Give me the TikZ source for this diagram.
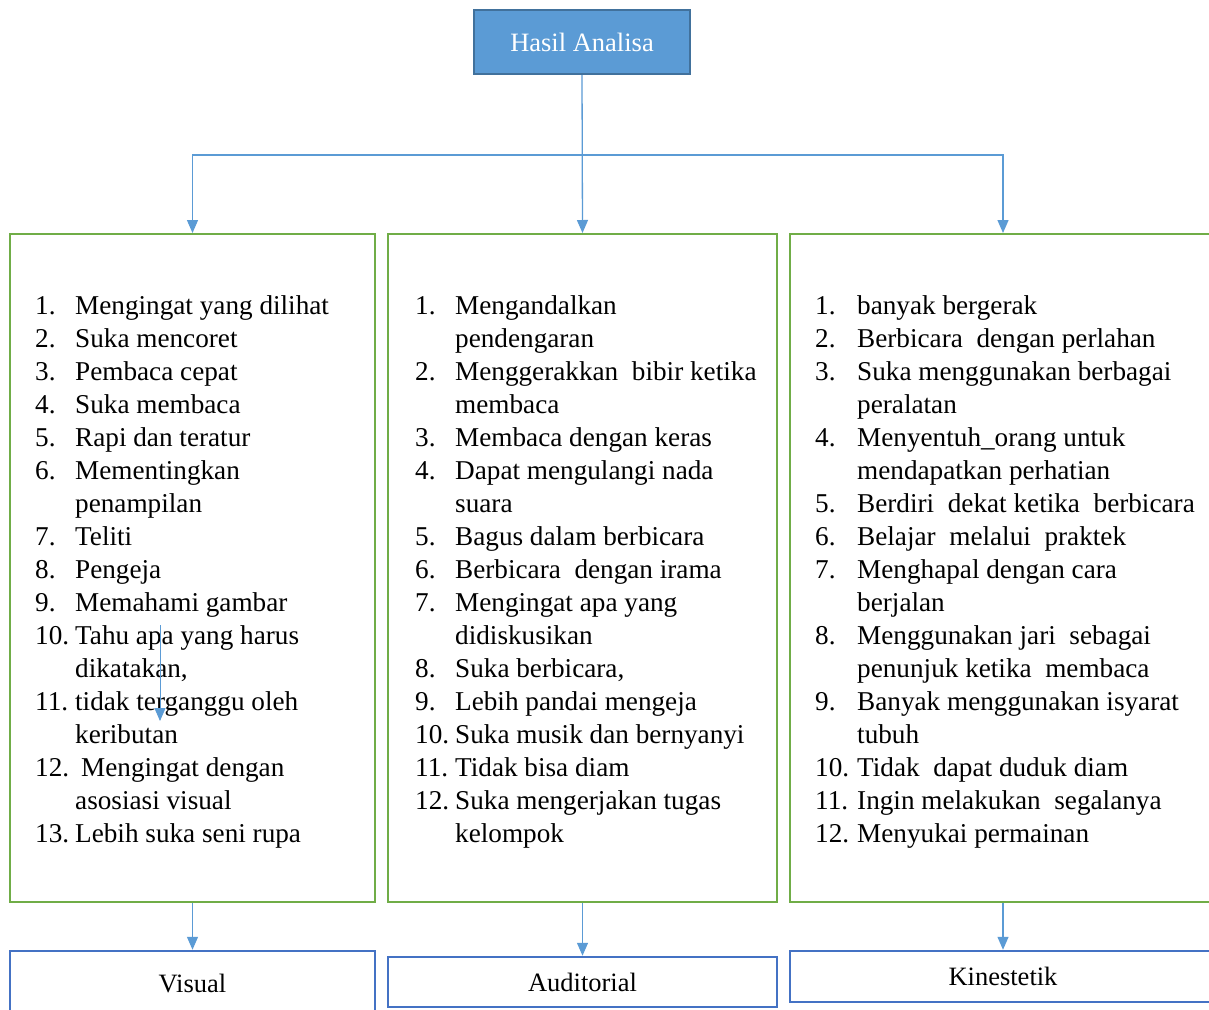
\documentclass[tikz,border=0pt]{standalone}
\usepackage{fontspec}
\setmainfont{Liberation Serif}
\usetikzlibrary{arrows.meta}
\definecolor{lineblue}{HTML}{5B9BD5}
\definecolor{darkblue}{HTML}{41719C}
\definecolor{boxgreen}{HTML}{70AD47}
\definecolor{boxblue}{HTML}{4472C4}
\tikzset{
  conn/.style={draw=lineblue, line width=1.3pt, -{Triangle[length=13pt,width=11pt]}},
  listbox/.style={draw=boxgreen, line width=2pt, inner sep=0pt},
  resbox/.style={draw=boxblue, line width=2.5pt, inner sep=0pt, font=\fontsize{26.5}{30}\selectfont},
  listtext/.style={anchor=north west, inner sep=0pt, align=left, font=\fontsize{27.2}{33}\selectfont},
}
\begin{document}
\begin{tikzpicture}[x=1pt,y=-1pt]
\useasboundingbox (0,0) rectangle (1209,1009);
\clip (0,0) rectangle (1209,1009);
\fill[white] (0,0) rectangle (1209,1009);
% top box
\node[fill=lineblue, draw=darkblue, line width=2pt, minimum width=216pt, minimum height=64pt, inner sep=0pt,
      text=white, font=\fontsize{26.5}{30}\selectfont] (top) at (582,42) {Hasil Analisa};
% list boxes
\node[listbox, minimum width=365pt, minimum height=668pt] (vis) at (192.5,568) {};
\node[listbox, minimum width=389pt, minimum height=668pt] (aud) at (582.5,568) {};
\node[listbox, minimum width=426pt, minimum height=668pt] (kin) at (1003,568) {};
% result boxes
\node[resbox, minimum width=365pt, minimum height=64pt] (rvis) at (192.5,983) {Visual};
\node[resbox, minimum width=389pt, minimum height=50pt] (raud) at (582.5,982) {Auditorial};
\node[resbox, minimum width=426pt, minimum height=51pt] (rkin) at (1003,976.5) {Kinestetik};
% lists
\node[listtext] (tvis) at (35,291) {%
\begin{tabular}{@{}p{40pt}@{}l@{}}
1. & Mengingat yang dilihat\\
2. & Suka mencoret\\
3. & Pembaca cepat\\
4. & Suka membaca\\
5. & Rapi dan teratur\\
6. & Mementingkan\\
   & penampilan\\
7. & Teliti\\
8. & Pengeja\\
9. & Memahami gambar\\
10. & Tahu apa yang harus\\
    & dikatakan,\\
11. & tidak terganggu oleh\\
    & keributan\\
12. & \hspace{6pt}Mengingat dengan\\
    & asosiasi visual\\
13. & Lebih suka seni rupa
\end{tabular}};
\node[listtext] (taud) at (415,291) {%
\begin{tabular}{@{}p{40pt}@{}l@{}}
1. & Mengandalkan\\
   & pendengaran\\
2. & Menggerakkan\ \ bibir ketika\\
   & membaca\\
3. & Membaca dengan keras\\
4. & Dapat mengulangi nada\\
   & suara\\
5. & Bagus dalam berbicara\\
6. & Berbicara\ \ dengan irama\\
7. & Mengingat apa yang\\
   & didiskusikan\\
8. & Suka berbicara,\\
9. & Lebih pandai mengeja\\
10. & Suka musik dan bernyanyi\\
11. & Tidak bisa diam\\
12. & Suka mengerjakan tugas\\
    & kelompok
\end{tabular}};
\node[listtext] (tkin) at (815,291) {%
\begin{tabular}{@{}p{42pt}@{}l@{}}
1. & banyak bergerak\\
2. & Berbicara\ \ dengan perlahan\\
3. & Suka menggunakan berbagai\\
   & peralatan\\
4. & Menyentuh\_orang untuk\\
   & mendapatkan perhatian\\
5. & Berdiri\ \ dekat ketika\ \ berbicara\\
6. & Belajar\ \ melalui\ \ praktek\\
7. & Menghapal dengan cara\\
   & berjalan\\
8. & Menggunakan jari\ \ sebagai\\
   & penunjuk ketika\ \ membaca\\
9. & Banyak menggunakan isyarat\\
   & tubuh\\
10. & Tidak\ \ dapat duduk diam\\
11. & Ingin melakukan\ \ segalanya\\
12. & Menyukai permainan
\end{tabular}};
% connectors
\coordinate (split) at (582.5,155);
\draw[conn] (top.south) -- (aud.north);
\draw[conn] (split) -| (vis.north);
\draw[conn] (split) -| (kin.north);
\draw[conn] (vis.south) -- (rvis.north);
\draw[conn] (aud.south) -- (raud.north);
\draw[conn] (kin.south) -- (rkin.north);
% stray arrow
\coordinate (s1) at (160,625);
\coordinate (s2) at (160,721);
\draw[conn, line width=1pt] (s1) -- (s2);
\end{tikzpicture}
\end{document}
